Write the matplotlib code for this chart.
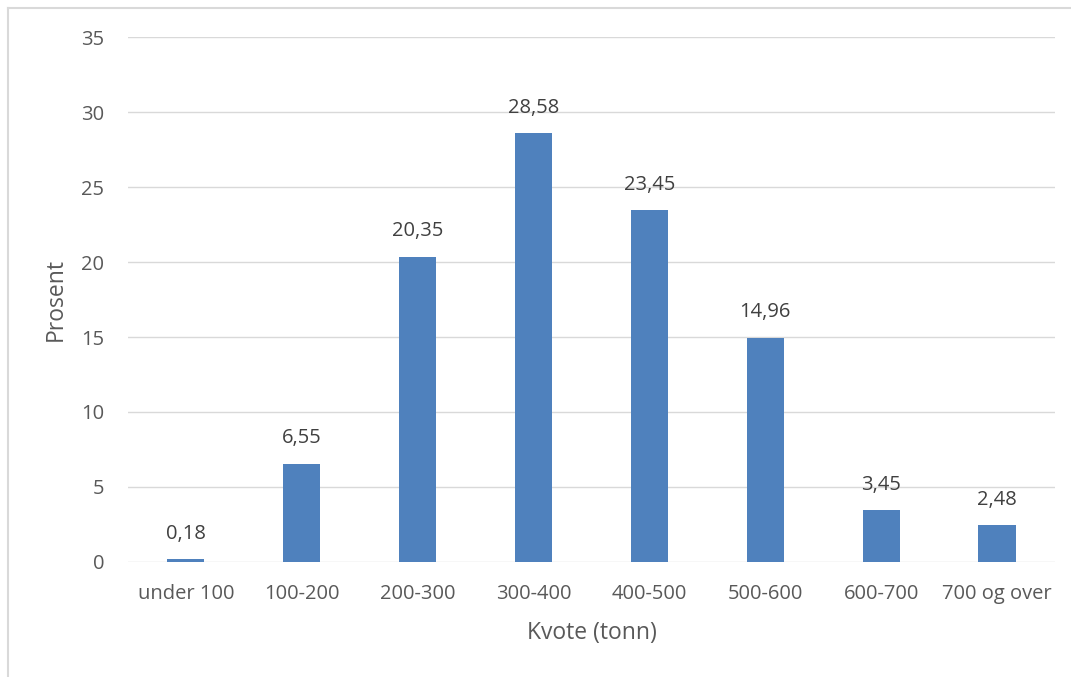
import matplotlib
matplotlib.use('Agg')
import matplotlib.pyplot as plt
from matplotlib.lines import Line2D

# Quota distribution data
categories = ['under 100', '100-200', '200-300', '300-400', '400-500',
              '500-600', '600-700', '700 og over']
percent = [0.18, 6.55, 20.35, 28.58, 23.45, 14.96, 3.45, 2.48]
yticks = [0, 5, 10, 15, 20, 25, 30, 35]

text_color = '#595959'
bar_color = '#4F81BD'
grid_color = '#D9D9D9'

plt.rcParams['font.family'] = ['Open Sans', 'DejaVu Sans']

fig = plt.figure(figsize=(10.71, 6.77), dpi=100)
ax = fig.add_axes([0.1195, 0.1699, 0.8655, 0.7754])

x = list(range(len(categories)))
bars = ax.bar(x, percent, width=0.32, color=bar_color, zorder=3)

for xi, v in zip(x, percent):
    label = f'{v:.2f}'.replace('.', ',')
    ax.annotate(label, (xi, v), xytext=(0, 11), textcoords='offset points',
                ha='center', va='bottom', fontsize=14.5, color='#404040')

ax.set_xlim(-0.5, len(categories) - 0.5)
ax.set_ylim(0, 35)
ax.set_yticks(yticks)
ax.set_yticklabels([str(t) for t in yticks])
ax.set_xticks(x)
ax.set_xticklabels(categories)
ax.tick_params(axis='both', length=0, labelsize=14.5, colors=text_color)
ax.tick_params(axis='y', pad=17)
ax.tick_params(axis='x', pad=16)
ax.grid(axis='y', color=grid_color, linewidth=1, zorder=0)
for s in ax.spines.values():
    s.set_visible(False)

ax.set_xlabel('Kvote (tonn)', fontsize=16.5, color=text_color, labelpad=12)
ax.set_ylabel('Prosent', fontsize=16.5, color=text_color, labelpad=10)

# Chart frame (left and top edges)
fig.add_artist(Line2D([8 / 1071, 8 / 1071], [0, 1 - 8 / 677],
                      transform=fig.transFigure, color=grid_color, linewidth=1.5))
fig.add_artist(Line2D([8 / 1071, 1], [1 - 8 / 677, 1 - 8 / 677],
                      transform=fig.transFigure, color=grid_color, linewidth=1.5))

fig.savefig('out.png', dpi=100)
